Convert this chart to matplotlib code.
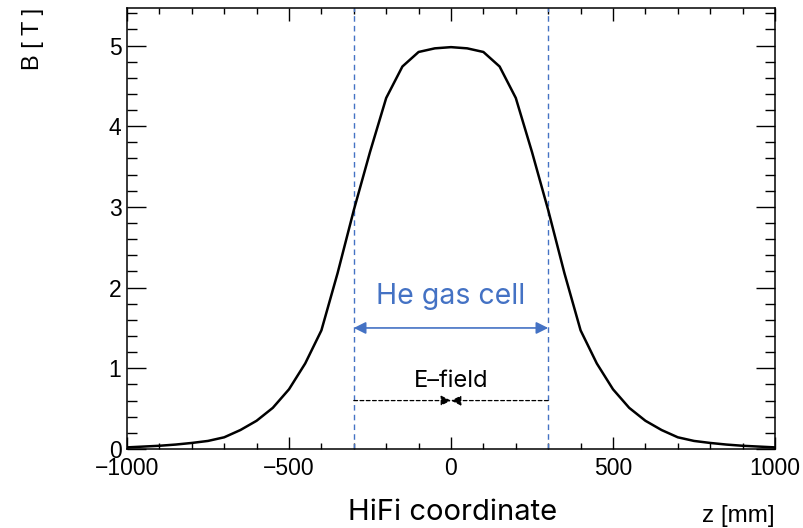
import matplotlib
matplotlib.use("Agg")
import matplotlib.pyplot as plt
from matplotlib.ticker import MultipleLocator

# Data: magnetic field profile along z
z_mm = [-1000, -950, -900, -850, -800, -750, -700, -650, -600, -550, -500, -450, -400,
        -350, -300, -250, -200, -150, -100, -50, 0,
        50, 100, 150, 200, 250, 300, 350, 400, 450, 500, 550, 600, 650, 700, 750, 800,
        850, 900, 950, 1000]
B_T = [0.02, 0.03, 0.04, 0.055, 0.075, 0.10, 0.145, 0.235, 0.35, 0.51, 0.74, 1.06, 1.47,
       2.18, 2.96, 3.68, 4.35, 4.74, 4.92, 4.965, 4.98,
       4.965, 4.92, 4.74, 4.35, 3.68, 2.96, 2.18, 1.47, 1.06, 0.74, 0.51, 0.35, 0.235, 0.145,
       0.10, 0.075, 0.055, 0.04, 0.03, 0.02]

cell_edges = [-300, 300]
cell_arrow_y = 1.5
efield_y = 0.6
efield_center = 0

blue = "#4472C4"
tick_font = "Liberation Sans"
label_font = ["Inter", "DejaVu Sans"]

fig = plt.figure(figsize=(8.04, 5.28), dpi=100)
ax = fig.add_axes([127/804, 79/528, 648/804, 441/528])

ax.plot(z_mm, B_T, color="black", lw=1.8, zorder=3)

for xe in cell_edges:
    ax.axvline(xe, color=blue, lw=1.0, ls=(0, (4, 3)), zorder=2)

# He gas cell arrow
ax.annotate("", xy=(cell_edges[0], cell_arrow_y), xytext=(cell_edges[1], cell_arrow_y),
            arrowprops=dict(arrowstyle="<|-|>", color=blue, lw=1.2,
                            mutation_scale=18, shrinkA=0, shrinkB=0))
ax.text(0, 1.89, "He gas cell", color=blue, ha="center", va="center",
        fontsize=20.5, family=label_font)

# E-field arrows
for xs in cell_edges:
    ax.annotate("", xy=(efield_center, efield_y), xytext=(xs, efield_y),
                arrowprops=dict(arrowstyle="-|>", color="black", lw=0.9, ls=(0, (3, 2)),
                                mutation_scale=15, shrinkA=0, shrinkB=0))
ax.text(0, 0.84, "E\u2013field", color="black", ha="center", va="center",
        fontsize=17, family=label_font)

ax.set_xlim(-1000, 1000)
ax.set_ylim(0, 5.465)
ax.xaxis.set_major_locator(MultipleLocator(500))
ax.xaxis.set_minor_locator(MultipleLocator(100))
ax.yaxis.set_major_locator(MultipleLocator(1))
ax.yaxis.set_minor_locator(MultipleLocator(0.2))

ax.tick_params(axis="x", which="major", direction="in", length=9, width=1.0,
               top=True, bottom=True, pad=6)
ax.tick_params(axis="x", which="minor", direction="in", length=4.5, width=1.0,
               top=True, bottom=True)
ax.tick_params(axis="y", which="major", direction="in", length=14, width=1.0,
               left=True, right=True, pad=4)
ax.tick_params(axis="y", which="minor", direction="in", length=7, width=1.0,
               left=True, right=True)
for lab in ax.get_xticklabels() + ax.get_yticklabels():
    lab.set_fontfamily(tick_font)
    lab.set_fontsize(16.5)
for sp in ax.spines.values():
    sp.set_linewidth(1.1)

fig.text(33/804, 1 - 8/528, "B [ T ]", rotation=90, ha="center", va="top",
         fontsize=17, family=tick_font)
fig.text(775/804, 1 - 522/528, "z [mm]", ha="right", va="baseline",
         fontsize=17.5, family=tick_font)
fig.text(453/804, 1 - 512/528, "HiFi coordinate", ha="center", va="center",
         fontsize=21, family=label_font)

fig.savefig("out.png", dpi=100)
